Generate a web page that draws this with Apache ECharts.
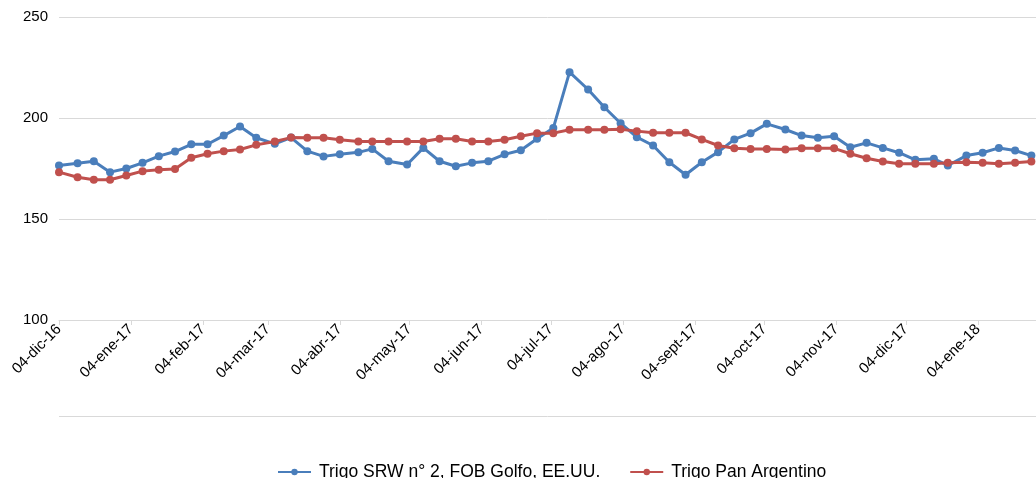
<!DOCTYPE html>
<html>
<head>
<meta charset="utf-8">
<script src="https://cdn.jsdelivr.net/npm/echarts@6/dist/echarts.min.js"></script>
<style>html,body{margin:0;padding:0;background:#fff}#c{width:1036px;height:478px}</style>
</head>
<body>
<div id="c"></div>
<script>
const dates = ['2016-12-04','2016-12-12','2016-12-19','2016-12-26','2017-01-02','2017-01-09','2017-01-16','2017-01-23','2017-01-30','2017-02-06',
'2017-02-13','2017-02-20','2017-02-27','2017-03-07','2017-03-14','2017-03-21','2017-03-28','2017-04-04','2017-04-12','2017-04-18',
'2017-04-25','2017-05-03','2017-05-10','2017-05-17','2017-05-24','2017-05-31','2017-06-07','2017-06-14','2017-06-21','2017-06-28',
'2017-07-05','2017-07-12','2017-07-20','2017-07-27','2017-08-03','2017-08-10','2017-08-17','2017-08-24','2017-08-31','2017-09-07',
'2017-09-14','2017-09-21','2017-09-28','2017-10-05','2017-10-13','2017-10-20','2017-10-27','2017-11-03','2017-11-10','2017-11-17',
'2017-11-24','2017-12-01','2017-12-08','2017-12-16','2017-12-22','2017-12-30','2018-01-06','2018-01-13','2018-01-20','2018-01-27'];
const srw = [176.5,177.6,178.6,173.2,175,177.8,181.1,183.4,187,187,
191.3,195.8,190.2,187.2,190.3,183.6,181,182,183,184.7,
178.6,177,185.2,178.6,176.1,177.8,178.6,182,184,189.7,
195,222.7,214.1,205.3,197.4,190.5,186.4,178.1,171.9,178.1,
183.1,189.4,192.5,197.1,194.3,191.3,190.2,191,185.5,187.7,
185.2,182.8,179.3,179.8,176.5,181.4,182.8,185.2,183.9,181.4];
const pan = [173.2,170.7,169.4,169.4,171.5,173.7,174.4,174.8,180.3,182.3,
183.6,184.4,186.7,188.4,190.3,190.2,190.2,189.2,188.4,188.4,
188.4,188.4,188.4,189.7,189.7,188.4,188.4,189.2,191,192.5,
192.5,194.2,194.2,194.2,194.4,193.5,192.7,192.7,192.7,189.4,
186.4,185,184.7,184.7,184.4,185,185,185,182.3,180.1,
178.5,177.3,177.3,177.3,177.8,178.1,177.8,177.3,177.8,178.5];
const tickDates = ['2016-12-04','2017-01-04','2017-02-04','2017-03-04','2017-04-04','2017-05-04','2017-06-04','2017-07-04','2017-08-04','2017-09-04','2017-10-04','2017-11-04','2017-12-04','2018-01-04'];
const monthNames = ['ene','feb','mar','abr','may','jun','jul','ago','sept','oct','nov','dic'];
const seriesNames = ['Trigo SRW n° 2, FOB Golfo, EE.UU.','Trigo Pan Argentino'];
const yTicks = [100,150,200,250];

function ts(s){const p=s.split('-').map(Number);return new Date(p[0],p[1]-1,p[2]).getTime();}
function fmt(v){const d=new Date(v);const dd=('0'+d.getDate()).slice(-2);return dd+'-'+monthNames[d.getMonth()]+'-'+String(d.getFullYear()).slice(-2);}
const tickTs = tickDates.map(ts);
const xMin = ts('2016-12-04');
const xMax = ts('2018-01-29');

const chart = echarts.init(document.getElementById('c'), null, {renderer:'canvas'});
const font = 'Liberation Sans, Arial, sans-serif';
chart.setOption({
  animation:false,
  textStyle:{fontFamily:font},
  grid:{left:59,right:0,top:17,bottom:158,containLabel:false},
  xAxis:{type:'value',min:xMin,max:xMax,
    axisLine:{show:true,lineStyle:{color:'#d9d9d9',width:1}},
    axisTick:{show:true,customValues:tickTs,length:5,lineStyle:{color:'#d9d9d9'}},
    axisLabel:{customValues:tickTs,formatter:fmt,rotate:45,color:'#000',fontSize:15,fontFamily:font,margin:7,hideOverlap:false},
    splitLine:{show:false}},
  yAxis:{type:'value',min:yTicks[0],max:yTicks[yTicks.length-1],interval:50,
    axisLine:{show:false},axisTick:{show:false},
    axisLabel:{color:'#000',fontSize:15,fontFamily:font,margin:11},
    splitLine:{lineStyle:{color:'#d9d9d9',width:1}}},
  legend:{top:458,left:272,itemWidth:33,itemHeight:8,itemGap:29,
    textStyle:{color:'#000',fontSize:17.5,fontFamily:font,padding:[0,0,0,3]},
    data:seriesNames},
  graphic:[{type:'line',shape:{x1:59,y1:416.5,x2:1036,y2:416.5},style:{stroke:'#d9d9d9',lineWidth:1}}],
  series:[
    {name:seriesNames[0],type:'line',data:dates.map((d,i)=>[ts(d),srw[i]]),
     symbol:'circle',symbolSize:8,showSymbol:true,
     lineStyle:{color:'#4a7ebb',width:3},itemStyle:{color:'#4a7ebb'}},
    {name:seriesNames[1],type:'line',data:dates.map((d,i)=>[ts(d),pan[i]]),
     symbol:'circle',symbolSize:8,showSymbol:true,
     lineStyle:{color:'#c0504d',width:3},itemStyle:{color:'#c0504d'}}
  ]
});
</script>
</body>
</html>
